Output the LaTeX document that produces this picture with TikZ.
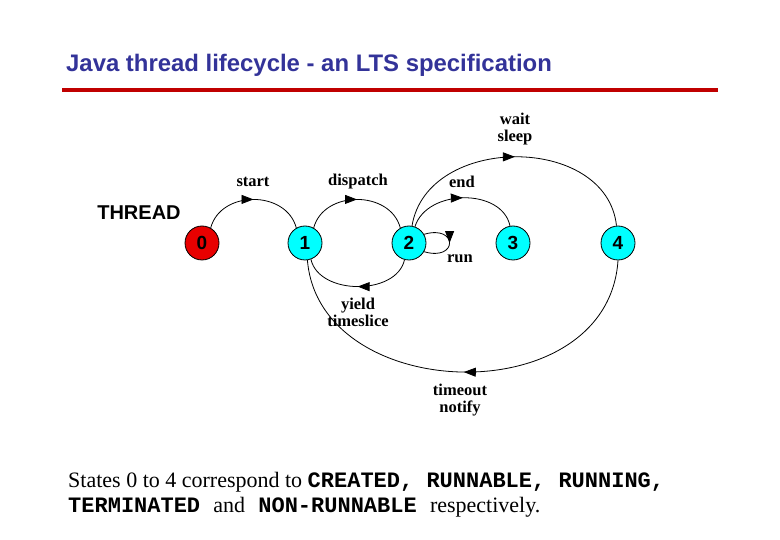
\documentclass[tikz,border=0pt]{standalone}
\usepackage{fontspec}
\setmainfont{Liberation Serif}
\setsansfont{Liberation Sans}
\setmonofont{Liberation Mono}
\usetikzlibrary{arrows.meta,decorations.markings}
\definecolor{titleblue}{RGB}{51,51,153}
\definecolor{rulered}{RGB}{192,0,0}
\definecolor{stcyan}{RGB}{0,255,255}
\definecolor{stred}{RGB}{232,0,0}
\begin{document}
\begin{tikzpicture}[x=1pt,y=-1pt,
  state/.style={circle,draw=black,line width=0.8pt,minimum size=34pt,inner sep=0pt,
    font=\sffamily\bfseries\fontsize{19}{19}\selectfont},
  lbl/.style={font=\bfseries\fontsize{16.5}{17}\selectfont,align=center,inner sep=0pt},
  trans/.style={line width=0.8pt},
  midarrow/.style={postaction={decorate},decoration={markings,
    mark=at position #1 with {\arrow{Triangle[length=12pt,width=9pt]}}}},
  midarrow/.default=0.5]
\fill[white] (0,0) rectangle (780,540);
\useasboundingbox (0,0) rectangle (780,540);

\node[anchor=base west,inner sep=0pt,text=titleblue,
  font=\sffamily\bfseries\fontsize{23.9}{26}\selectfont] (title) at (66,72)
  {Java thread lifecycle - an LTS specification};
\coordinate (ruleL) at (62,90);
\coordinate (ruleR) at (718,90);
\draw[rulered,line width=4.5pt] (ruleL) -- (ruleR);

\node[font=\sffamily\bfseries\fontsize{20}{20}\selectfont,inner sep=0pt] (thread) at (139,213) {THREAD};

\node[state,fill=stred] (s0) at (202,243) {0};
\node[state,fill=stcyan] (s1) at (305,243) {1};
\node[state,fill=stcyan] (s2) at (409,243) {2};
\node[state,fill=stcyan] (s3) at (513,243) {3};
\node[state,fill=stcyan] (s4) at (618,243) {4};

\draw[trans,midarrow] (s0.60) .. controls +(10,-38) and +(-10,-38) .. (s1.120);
\draw[trans,midarrow] (s1.60) .. controls +(10,-38) and +(-10,-38) .. (s2.120);
\draw[trans,midarrow] (s2.70) .. controls +(12,-38) and +(-8,-38) .. (s3.100);
\draw[trans,midarrow] (s2.80) .. controls +(15,-92) and +(-10,-92) .. (s4.95);
\draw[trans,midarrow] (s2.30) .. controls +(34,-10) and +(34,10) .. (s2.-30);
\draw[trans,midarrow] (s2.-105) .. controls +(-8,36) and +(8,36) .. (s1.-70);
\draw[trans,midarrow] (s4.-90) .. controls +(-10,153) and +(12,145) .. (s1.-82);

\node[lbl] (lstart) at (253,182) {start};
\node[lbl] (ldispatch) at (358,182) {dispatch};
\node[lbl] (lend) at (462,182) {end};
\node[lbl] (lwait) at (515,129) {wait\\sleep};
\node[lbl] (lrun) at (460,259) {run};
\node[lbl] (lyield) at (358,312) {yield\\timeslice};
\node[lbl] (ltimeout) at (460,400) {timeout\\notify};

\node[anchor=base west,inner sep=0pt,font=\fontsize{22}{25}\selectfont] (cap1) at (68,487)
  {States 0 to 4 correspond to \texttt{\bfseries CREATED, RUNNABLE, RUNNING,}};
\node[anchor=base west,inner sep=0pt,font=\fontsize{22}{25}\selectfont] (cap2) at (68,512)
  {\texttt{\bfseries TERMINATED }and\texttt{\bfseries{} NON-RUNNABLE }respectively.};
\end{tikzpicture}
\end{document}
